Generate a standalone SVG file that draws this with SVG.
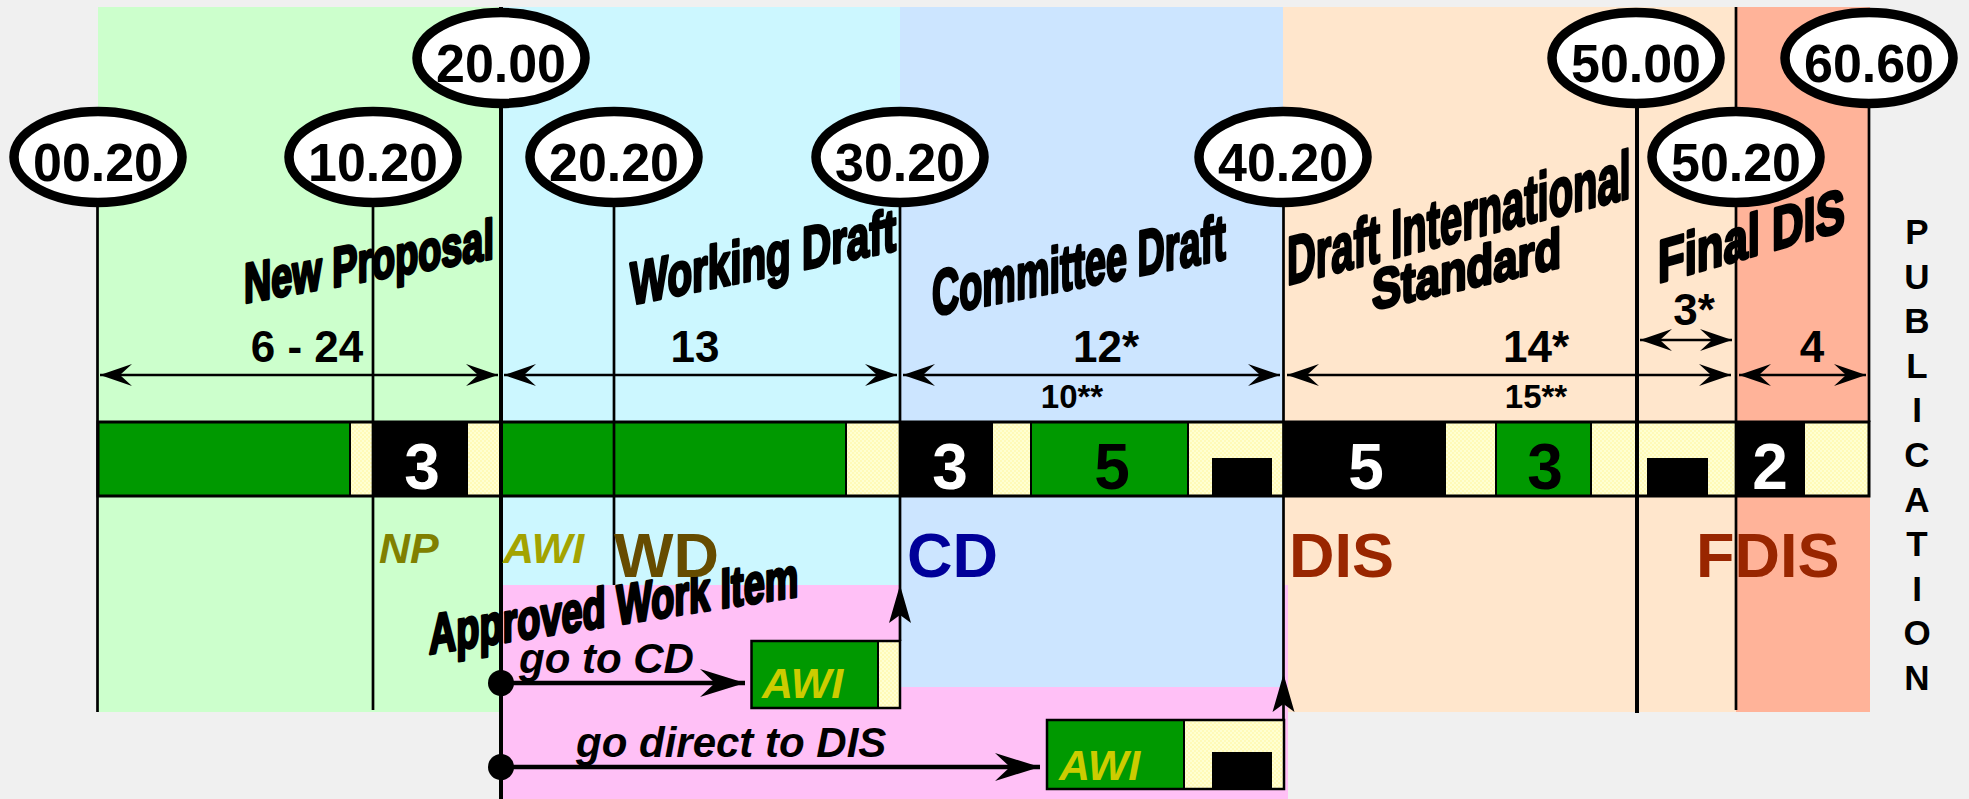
<svg xmlns="http://www.w3.org/2000/svg" width="1969" height="799" viewBox="0 0 1969 799">
  <style>
    text { font-family: "Liberation Sans", Arial, sans-serif; font-weight: bold; }
    .code { font-size: 53px; text-anchor: middle; fill: #000; }
    .oval { fill: #fff; stroke: #000; stroke-width: 9.5; }
    .stem { stroke: #000; stroke-width: 2.7; fill: none; }
    .stem-thick { stroke: #000; stroke-width: 4; fill: none; }
    .title { fill: #000; stroke: #000; stroke-width: 3.2; stroke-linejoin: round; }
    .dur { font-size: 44px; text-anchor: middle; }
    .dur-small { font-size: 33px; text-anchor: middle; }
    .num { font-size: 64px; text-anchor: middle; }
    .sep { stroke: #000; stroke-width: 2; }
    .span { stroke: #000; stroke-width: 2.7; fill: none; marker-start: url(#tip); marker-end: url(#tip); }
    .route { stroke: #000; stroke-width: 4.5; fill: none; marker-end: url(#tipBig); }
    .abbr { font-size: 63px; }
    .small-abbr { font-size: 43px; font-style: italic; }
    .go { font-size: 42px; font-style: italic; fill: #000; }
    .awi { font-size: 43px; font-style: italic; fill: #cccc00; }
    .pub { font-size: 35px; text-anchor: middle; }
    .box { stroke: #000; stroke-width: 2.5; }
  </style>
  <defs>
    <pattern id="hatch" width="4" height="4" patternUnits="userSpaceOnUse">
      <rect width="4" height="4" fill="#ffffd2"/>
      <rect width="2" height="2" fill="#fffab8"/>
      <rect x="2" y="2" width="2" height="2" fill="#fffab8"/>
    </pattern>
    <marker id="tip" markerUnits="userSpaceOnUse" viewBox="-34 -12 35 24" markerWidth="35" markerHeight="24" refX="0" refY="0" orient="auto-start-reverse" overflow="visible">
      <path d="M0,0 L-32,-11 L-20,0 L-32,11 Z" fill="#000"/>
    </marker>
    <marker id="tipBig" markerUnits="userSpaceOnUse" viewBox="-46 -15 47 30" markerWidth="47" markerHeight="30" refX="0" refY="0" orient="auto" overflow="visible">
      <path d="M0,0 L-45,-14 L-30,0 L-45,14 Z" fill="#000"/>
    </marker>
    <path id="upHead" d="M0,0 L11,38 L0,30 L-11,38 Z" fill="#000"/>
  </defs>

  <!-- page -->
  <rect width="1969" height="799" fill="#f0f0f0"/>

  <!-- stage bands -->
  <g id="bands">
    <rect x="98" y="7" width="404" height="705" fill="#ccffcc"/>
    <rect x="502" y="7" width="398" height="578" fill="#ccf7ff"/>
    <rect x="1283" y="7" width="453" height="705" fill="#ffe6cc"/>
    <rect x="1736" y="7" width="134" height="705" fill="#ffb399"/>
    <rect x="502" y="585" width="786" height="214" fill="#ffc0f6"/>
    <rect x="900" y="7" width="383" height="680" fill="#cce5ff"/>
  </g>

  <!-- stage bar with the voting periods -->
  <g id="stage-bar">
    <rect x="98" y="422" width="252" height="74" fill="#009900"/>
    <rect x="350" y="422" width="22.5" height="74" fill="url(#hatch)"/>
    <rect x="372.5" y="422" width="95.5" height="74" fill="#000"/>
    <rect x="468" y="422" width="33" height="74" fill="url(#hatch)"/>
    <rect x="501" y="422" width="345" height="74" fill="#009900"/>
    <rect x="846" y="422" width="54" height="74" fill="url(#hatch)"/>
    <rect x="900" y="422" width="93" height="74" fill="#000"/>
    <rect x="993" y="422" width="38" height="74" fill="url(#hatch)"/>
    <rect x="1031" y="422" width="157" height="74" fill="#009900"/>
    <rect x="1188" y="422" width="95" height="74" fill="url(#hatch)"/>
    <rect x="1212" y="458" width="60" height="38" fill="#000"/>
    <rect x="1283" y="422" width="163" height="74" fill="#000"/>
    <rect x="1446" y="422" width="50" height="74" fill="url(#hatch)"/>
    <rect x="1496" y="422" width="95" height="74" fill="#009900"/>
    <rect x="1591" y="422" width="46" height="74" fill="url(#hatch)"/>
    <rect x="1637" y="422" width="99" height="74" fill="url(#hatch)"/>
    <rect x="1647" y="458" width="61" height="38" fill="#000"/>
    <rect x="1736" y="422" width="68" height="74" fill="#000"/>
    <rect x="1804" y="422" width="65" height="74" fill="url(#hatch)"/>
    <line class="sep" x1="350" y1="422" x2="350" y2="496"/>
    <line class="sep" x1="846" y1="422" x2="846" y2="496"/>
    <line class="sep" x1="1031" y1="422" x2="1031" y2="496"/>
    <line class="sep" x1="1188" y1="422" x2="1188" y2="496"/>
    <line class="sep" x1="1496" y1="422" x2="1496" y2="496"/>
    <line class="sep" x1="1591" y1="422" x2="1591" y2="496"/>
    <line class="sep" x1="1804" y1="422" x2="1804" y2="496"/>
    <rect x="98" y="422" width="1771" height="74" fill="none" stroke="#000" stroke-width="3"/>
    <text class="num" x="422" y="489" fill="#fff">3</text>
    <text class="num" x="950" y="489" fill="#fff">3</text>
    <text class="num" x="1112" y="489" fill="#000">5</text>
    <text class="num" x="1366" y="489" fill="#fff">5</text>
    <text class="num" x="1545" y="489" fill="#000">3</text>
    <text class="num" x="1770" y="489" fill="#fff">2</text>
  </g>

  <!-- stage codes -->
  <g id="stage-0020">
    <line class="stem" x1="97.5" y1="200" x2="97.5" y2="712"/>
    <ellipse class="oval" cx="98" cy="157" rx="84" ry="45.5"/>
    <text class="code" x="98" y="181" textLength="130" lengthAdjust="spacingAndGlyphs">00.20</text>
  </g>
  <g id="stage-1020">
    <line class="stem" x1="373" y1="200" x2="373" y2="710"/>
    <ellipse class="oval" cx="373" cy="157" rx="84" ry="45.5"/>
    <text class="code" x="373" y="181" textLength="130" lengthAdjust="spacingAndGlyphs">10.20</text>
  </g>
  <g id="stage-2000">
    <line class="stem-thick" x1="501" y1="7" x2="501" y2="799"/>
    <ellipse class="oval" cx="501" cy="58" rx="84" ry="45.5"/>
    <text class="code" x="501" y="82" textLength="130" lengthAdjust="spacingAndGlyphs">20.00</text>
  </g>
  <g id="stage-2020">
    <line class="stem" x1="614" y1="200" x2="614" y2="585"/>
    <ellipse class="oval" cx="614" cy="157" rx="84" ry="45.5"/>
    <text class="code" x="614" y="181" textLength="130" lengthAdjust="spacingAndGlyphs">20.20</text>
  </g>
  <g id="stage-3020">
    <line class="stem" x1="900" y1="200" x2="900" y2="641"/>
    <ellipse class="oval" cx="900" cy="157" rx="84" ry="45.5"/>
    <text class="code" x="900" y="181" textLength="130" lengthAdjust="spacingAndGlyphs">30.20</text>
  </g>
  <g id="stage-4020">
    <line class="stem" x1="1283.5" y1="200" x2="1283.5" y2="720"/>
    <ellipse class="oval" cx="1283" cy="157" rx="84" ry="45.5"/>
    <text class="code" x="1283" y="181" textLength="130" lengthAdjust="spacingAndGlyphs">40.20</text>
  </g>
  <g id="stage-5000">
    <line class="stem-thick" x1="1637" y1="100" x2="1637" y2="713"/>
    <ellipse class="oval" cx="1636" cy="58" rx="84" ry="45.5"/>
    <text class="code" x="1636" y="82" textLength="130" lengthAdjust="spacingAndGlyphs">50.00</text>
  </g>
  <g id="stage-5020">
    <line class="stem" x1="1736" y1="7" x2="1736" y2="710"/>
    <ellipse class="oval" cx="1736" cy="157" rx="84" ry="45.5"/>
    <text class="code" x="1736" y="181" textLength="130" lengthAdjust="spacingAndGlyphs">50.20</text>
  </g>
  <g id="stage-6060">
    <line class="stem" x1="1869" y1="100" x2="1869" y2="422"/>
    <ellipse class="oval" cx="1869" cy="58" rx="84" ry="45.5"/>
    <text class="code" x="1869" y="82" textLength="130" lengthAdjust="spacingAndGlyphs">60.60</text>
  </g>

  <!-- stage names, slanted -->
  <g id="stage-names" class="title">
    <text transform="translate(244,303) skewY(-10.2) scale(0.675,1)" font-size="56">New Proposal</text>
    <text transform="translate(630,305) skewY(-11.6) scale(0.673,1)" font-size="60">Working Draft</text>
    <text transform="translate(932,316) skewY(-11) scale(0.59,1)" font-size="64">Committee Draft</text>
    <text transform="translate(1287,285) skewY(-14.3) scale(0.587,1)" font-size="68">Draft International</text>
    <text transform="translate(1372,310) skewY(-12.8) scale(0.78,1)" font-size="56">Standard</text>
    <text transform="translate(1658,283) skewY(-15.8) scale(0.728,1)" font-size="60">Final DIS</text>
    <text transform="translate(429,654) skewY(-8.9) scale(0.676,1)" font-size="56">Approved Work Item</text>
  </g>

  <!-- durations in months -->
  <g id="durations">
    <text class="dur" x="307" y="362">6 - 24</text>
    <text class="dur" x="695" y="362">13</text>
    <text class="dur" x="1106" y="362">12*</text>
    <text class="dur-small" x="1072" y="408">10**</text>
    <text class="dur" x="1536" y="362">14*</text>
    <text class="dur-small" x="1536" y="408">15**</text>
    <text class="dur" x="1694" y="325">3*</text>
    <text class="dur" x="1812" y="362">4</text>
  </g>

  <!-- document abbreviations -->
  <g id="abbreviations">
    <text class="small-abbr" x="379" y="563" fill="#808000">NP</text>
    <text class="small-abbr" x="503" y="563" fill="#a3a300">AWI</text>
    <text class="abbr" x="614" y="577" fill="#664c00">WD</text>
    <text class="abbr" x="907" y="577" fill="#000099">CD</text>
    <text class="abbr" x="1289" y="577" fill="#992600">DIS</text>
    <text class="abbr" x="1696" y="577" fill="#992600">FDIS</text>
  </g>

  <!-- fast-track work item boxes -->
  <g id="awi-to-cd">
    <rect x="751.5" y="641" width="126.5" height="67" fill="#009900"/>
    <rect x="878" y="641" width="22" height="67" fill="url(#hatch)"/>
    <line class="sep" x1="878" y1="641" x2="878" y2="708"/>
    <rect class="box" x="751.5" y="641" width="148.5" height="67" fill="none"/>
    <text class="awi" x="762" y="698">AWI</text>
  </g>
  <g id="awi-to-dis">
    <rect x="1047" y="720" width="137" height="69" fill="#009900"/>
    <rect x="1184" y="720" width="100" height="69" fill="url(#hatch)"/>
    <rect x="1212" y="752" width="60" height="37" fill="#000"/>
    <line class="sep" x1="1184" y1="720" x2="1184" y2="789"/>
    <rect class="box" x="1047" y="720" width="237" height="69" fill="none"/>
    <text class="awi" x="1059" y="780">AWI</text>
  </g>

  <!-- PUBLICATION column -->
  <g id="publication">
    <text class="pub" x="1917" y="244">P</text>
    <text class="pub" x="1917" y="288.6">U</text>
    <text class="pub" x="1917" y="333.2">B</text>
    <text class="pub" x="1917" y="377.8">L</text>
    <text class="pub" x="1917" y="422.4">I</text>
    <text class="pub" x="1917" y="467">C</text>
    <text class="pub" x="1917" y="511.6">A</text>
    <text class="pub" x="1917" y="556.2">T</text>
    <text class="pub" x="1917" y="600.8">I</text>
    <text class="pub" x="1917" y="645.4">O</text>
    <text class="pub" x="1917" y="690">N</text>
  </g>

  <!-- connectors -->
  <g id="connectors">
    <line class="span" x1="100" y1="375" x2="498" y2="375"/>
    <line class="span" x1="504" y1="375" x2="897" y2="375"/>
    <line class="span" x1="903" y1="375" x2="1280" y2="375"/>
    <line class="span" x1="1287" y1="375" x2="1731" y2="375"/>
    <line class="span" x1="1640" y1="340" x2="1732" y2="340"/>
    <line class="span" x1="1739" y1="375" x2="1866" y2="375"/>

    <circle cx="501" cy="683" r="13" fill="#000"/>
    <circle cx="501" cy="767" r="13" fill="#000"/>
    <line class="route" x1="501" y1="683" x2="745" y2="683"/>
    <line class="route" x1="501" y1="767" x2="1040" y2="767"/>
    <text class="go" x="519" y="673">go to CD</text>
    <text class="go" x="576" y="757">go direct to DIS</text>

    <use href="#upHead" x="900" y="585"/>
    <use href="#upHead" x="1283.5" y="674"/>
  </g>
</svg>
